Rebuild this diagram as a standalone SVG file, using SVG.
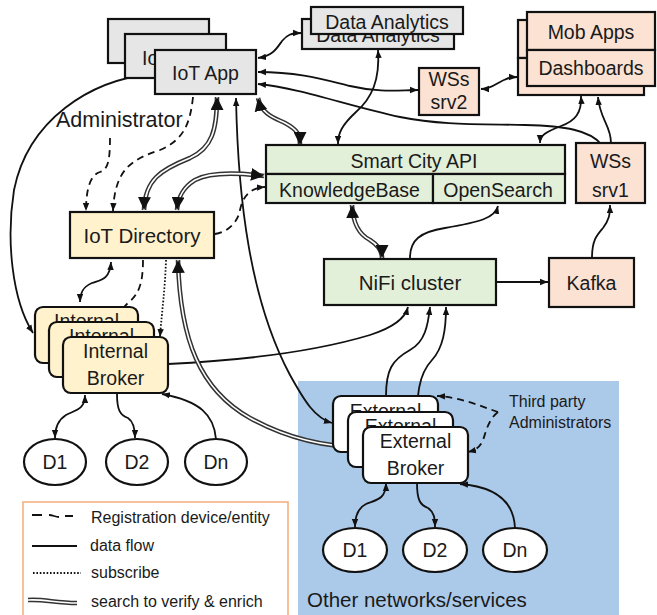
<svg xmlns="http://www.w3.org/2000/svg" width="657" height="615" viewBox="0 0 657 615">
  <style>
    text { font-family: "Liberation Sans", Arial, sans-serif; fill: #1a1a1a; }
    .lbl { font-size: 19.5px; text-anchor: middle; }
    .sm { font-size: 16px; }
    .box { stroke: #111; stroke-width: 2.2; }
    .grey { fill: #e6e6e6; }
    .peach { fill: #fbe2d3; }
    .green { fill: #e2efd9; }
    .yellow { fill: #fff2cc; }
    .white { fill: #ffffff; }
    .ln { fill: none; stroke: #111; stroke-width: 1.8; }
    .dash { stroke-dasharray: 7 5; }
    .dot { stroke-dasharray: 1.6 1.8; }
    .e1 { marker-end: url(#ah); }
    .e2 { marker-start: url(#ah); marker-end: url(#ah); }
    .dbo { fill: none; stroke: #333; stroke-width: 4.6; }
    .dbi { fill: none; stroke: #fff; stroke-width: 1.6; }
    .dbh { fill: none; stroke: none; marker-start: url(#bh); marker-end: url(#bh); }
  </style>
  <defs>
    <marker id="ah" viewBox="0 0 10 10" refX="10" refY="5" markerWidth="8" markerHeight="8" markerUnits="userSpaceOnUse" orient="auto-start-reverse">
      <path d="M0,1 L10,5 L0,9 z" fill="#111"/>
    </marker>
    <marker id="bh" viewBox="0 0 12 12" refX="12" refY="6" markerWidth="13" markerHeight="13" markerUnits="userSpaceOnUse" orient="auto-start-reverse">
      <path d="M0,0 L12,6 L0,12 z" fill="#111"/>
    </marker>
  </defs>

  <!-- external networks area -->
  <rect x="298" y="381" width="321" height="240" fill="#abc9e8"/>
  <text x="307" y="607" style="font-size:20.5px">Other networks/services</text>
  <text x="509" y="407" class="sm">Third party</text>
  <text x="509" y="428" class="sm">Administrators</text>

  <!-- legend -->
  <g id="legend">
    <rect x="23" y="502" width="265" height="120" fill="#fff" stroke="#f4b183" stroke-width="1.6"/>
    <path d="M32,515 L42,515 M49,515 C53,515 55,517 59,517 M65,516 L73,516" class="ln"/>
    <text x="91" y="523" class="sm">Registration device/entity</text>
    <path d="M32,546 L77,546" class="ln"/>
    <text x="90" y="551" class="sm">data flow</text>
    <path d="M33,573 L81,573" class="ln dot"/>
    <text x="91" y="578" class="sm">subscribe</text>
    <path d="M28,600 C45,599 55,603 77,603" class="dbo"/>
    <path d="M28,600 C45,599 55,603 77,603" class="dbi"/>
    <text x="91" y="607" class="sm">search to verify &amp; enrich</text>
  </g>

  <text x="56" y="127" style="font-size:21.5px">Administrator</text>

  <!-- connectors -->
  <g id="connectors">
    <!-- data flow -->
    <path class="ln e2" d="M258,58 C273,56 277,48 282,41 C287,35 291,33 301,33"/>
    <path class="ln e2" d="M258,72 C300,72 325,80 350,86 C380,93 400,90 418,90"/>
    <path class="ln e1" d="M602,145 C590,130 565,126 525,125 C475,124 440,125 400,117 C345,105 300,88 258,84"/>
    <path class="ln e2" d="M481,89 C496,89 500,77 517,77"/>
    <path class="ln e2" d="M378,50 C380,80 372,98 356,112 C342,125 338,133 338,144"/>
    <path class="ln e2" d="M581,96 C582,113 575,121 561,126 C546,132 540,135 540,143"/>
    <path class="ln e1" d="M611,143 C611,125 600,120 598,97"/>
    <path class="ln e2" d="M152,74 C90,80 28,120 14,190 C6,240 12,300 33,333"/>
    <path class="ln e2" d="M236,98 C238,200 250,300 290,375 C305,402 315,418 332,423"/>
    <path class="ln e2" d="M111,262 C110,280 100,280 92,283 C82,287 80,294 80,302"/>
    <path class="ln e1" d="M168,364 C250,360 320,350 370,335 C395,327 405,318 408,307"/>
    <path class="ln e1" d="M386,396 C386,370 392,360 410,350 C425,342 428,325 430,307"/>
    <path class="ln e1" d="M417,427 C417,395 418,375 432,360 C443,348 446,330 446,307"/>
    <path class="ln e1" d="M410,258 C410,240 420,232 445,228 C480,222 495,218 498,206"/>
    <path class="ln e1" d="M497,282 L548,282"/>
    <path class="ln e1" d="M592,258 C592,240 597,235 603,228 C609,220 610,215 610,205"/>
    <path class="ln e2" d="M85,395 C85,410 75,410 66,415 C58,420 55,428 55,438"/>
    <path class="ln e1" d="M117,394 C117,410 120,415 128,418 C134,422 135,430 135,438"/>
    <path class="ln e1" d="M216,439 C214,415 200,401 162,394"/>
    <path class="ln e2" d="M386,483 C386,500 375,500 366,504 C358,508 355,516 355,527"/>
    <path class="ln e1" d="M417,483 C417,500 420,505 428,508 C434,512 435,518 435,527"/>
    <path class="ln e1" d="M515,528 C514,505 500,487 460,484"/>

    <!-- registration -->
    <path class="ln dash e1" d="M215,234 C228,232 238,222 240,210 C243,196 250,188 265,187"/>
    <path class="ln dash e1" d="M193,97 C190,125 183,140 160,150 C130,160 115,170 113,211"/>
    <path class="ln dash e1" d="M110,138 C110,160 108,170 100,172 C90,175 86,190 86,211"/>
    <path class="ln dash e1" d="M143,260 C143,285 138,295 128,303 C120,310 117,320 117,333"/>
    <path class="ln dash e1" d="M498,412 C480,406 460,397 437,396"/>
    <path class="ln dash e1" d="M498,412 C488,420 486,432 483,440 C480,447 476,450 468,452"/>

    <!-- subscribe -->
    <path class="ln dot e1" d="M166,260 C165,290 162,310 160,337"/>

    <!-- search to verify & enrich -->
    <path class="dbo" d="M258,98 C262,115 275,118 285,123 C298,130 300,135 300,145"/>
    <path class="dbi" d="M258,98 C262,115 275,118 285,123 C298,130 300,135 300,145"/>
    <path class="dbh" d="M258,98 C262,115 275,118 285,123 C298,130 300,135 300,145"/>
    <path class="dbo" d="M264,176 C240,173 210,172 195,180 C182,188 178,198 177,210"/>
    <path class="dbi" d="M264,176 C240,173 210,172 195,180 C182,188 178,198 177,210"/>
    <path class="dbh" d="M264,176 C240,173 210,172 195,180 C182,188 178,198 177,210"/>
    <path class="dbo" d="M217,97 C217,130 212,148 190,158 C160,170 145,180 144,210"/>
    <path class="dbi" d="M217,97 C217,130 212,148 190,158 C160,170 145,180 144,210"/>
    <path class="dbh" d="M217,97 C217,130 212,148 190,158 C160,170 145,180 144,210"/>
    <path class="dbo" d="M178,260 C180,340 200,390 250,418 C290,440 330,447 362,447"/>
    <path class="dbi" d="M178,260 C180,340 200,390 250,418 C290,440 330,447 362,447"/>
    <path class="dbh" d="M178,260 C180,340 200,390 250,418 C290,440 330,447 362,447"/>
    <path class="dbo" d="M352,205 C353,225 360,235 370,240 C378,245 382,250 382,258"/>
    <path class="dbi" d="M352,205 C353,225 360,235 370,240 C378,245 382,250 382,258"/>
    <path class="dbh" d="M352,205 C353,225 360,235 370,240 C378,245 382,250 382,258"/>
  </g>

  <!-- nodes -->
  <g id="iot-app">
    <rect x="108" y="19" width="101" height="44" class="box grey"/>
    <rect x="125" y="34" width="101" height="44" class="box grey"/>
    <text x="175.5" y="65" class="lbl">IoT App</text>
    <rect x="155" y="50" width="101" height="44" class="box grey"/>
    <text x="205.5" y="80" class="lbl">IoT App</text>
  </g>

  <g id="data-analytics">
    <rect x="302" y="19" width="152" height="30" class="box grey"/>
    <text x="378" y="42" class="lbl">Data Analytics</text>
    <rect x="311" y="7" width="152" height="27" class="box grey"/>
    <text x="387" y="29" class="lbl">Data Analytics</text>
  </g>

  <g id="mob-apps">
    <rect x="518" y="20" width="126" height="38" class="box peach"/>
    <rect x="527" y="12" width="128" height="38" class="box peach"/>
    <text x="591" y="39" class="lbl">Mob Apps</text>
  </g>
  <g id="dashboards">
    <rect x="518" y="58" width="126" height="37" class="box peach"/>
    <rect x="527" y="50" width="128" height="36" class="box peach"/>
    <text x="591" y="75" class="lbl">Dashboards</text>
  </g>

  <g id="wss-srv2">
    <rect x="419" y="68" width="60" height="47" class="box peach"/>
    <text x="449" y="86" class="lbl">WSs</text>
    <text x="449" y="109" class="lbl">srv2</text>
  </g>

  <g id="smart-city-api">
    <rect x="266" y="145" width="299" height="29" class="box green"/>
    <text x="414" y="168" class="lbl">Smart City API</text>
  </g>
  <g id="knowledge-base">
    <rect x="266" y="174" width="167" height="29" class="box green"/>
    <text x="349.5" y="197" class="lbl">KnowledgeBase</text>
  </g>
  <g id="open-search">
    <rect x="433" y="174" width="132" height="29" class="box green"/>
    <text x="498" y="197" class="lbl">OpenSearch</text>
  </g>

  <g id="wss-srv1">
    <rect x="576" y="143" width="69" height="60" class="box peach"/>
    <text x="610.5" y="168" class="lbl">WSs</text>
    <text x="610.5" y="197" class="lbl">srv1</text>
  </g>

  <g id="iot-directory">
    <rect x="70" y="212" width="144" height="46" class="box yellow"/>
    <text x="142" y="243" class="lbl" style="font-size:20.5px">IoT Directory</text>
  </g>

  <g id="nifi-cluster">
    <rect x="324" y="259" width="172" height="46" class="box green"/>
    <text x="410" y="290" class="lbl" style="font-size:20.5px">NiFi cluster</text>
  </g>

  <g id="kafka">
    <rect x="549" y="258" width="85" height="49" class="box peach"/>
    <text x="591.5" y="290" class="lbl">Kafka</text>
  </g>

  <g id="internal-broker">
    <rect x="35" y="307" width="103" height="56" rx="8" class="box yellow"/>
    <text x="86.5" y="328" class="lbl">Internal</text>
    <rect x="49" y="322" width="105" height="55" rx="8" class="box yellow"/>
    <text x="101.5" y="343" class="lbl">Internal</text>
    <rect x="63" y="337" width="105" height="56" rx="8" class="box yellow"/>
    <text x="115.5" y="358" class="lbl">Internal</text>
    <text x="115.5" y="385" class="lbl">Broker</text>
  </g>

  <g id="external-broker">
    <rect x="333" y="396" width="105" height="56" rx="8" class="box white"/>
    <text x="385.5" y="418" class="lbl">External</text>
    <rect x="348" y="412" width="105" height="55" rx="8" class="box white"/>
    <text x="400.5" y="433" class="lbl">External</text>
    <rect x="363" y="427" width="105" height="56" rx="8" class="box white"/>
    <text x="415.5" y="448" class="lbl">External</text>
    <text x="415.5" y="475" class="lbl">Broker</text>
  </g>

  <g id="int-d1"><ellipse cx="55" cy="462" rx="31" ry="23" class="box white"/><text x="55" y="469" class="lbl">D1</text></g>
  <g id="int-d2"><ellipse cx="137" cy="462" rx="31" ry="23" class="box white"/><text x="137" y="469" class="lbl">D2</text></g>
  <g id="int-dn"><ellipse cx="216" cy="462" rx="31" ry="23" class="box white"/><text x="216" y="469" class="lbl">Dn</text></g>

  <g id="ext-d1"><ellipse cx="355" cy="550" rx="32" ry="22" class="box white"/><text x="355" y="557" class="lbl">D1</text></g>
  <g id="ext-d2"><ellipse cx="435" cy="550" rx="32" ry="22" class="box white"/><text x="435" y="557" class="lbl">D2</text></g>
  <g id="ext-dn"><ellipse cx="515" cy="550" rx="32" ry="22" class="box white"/><text x="515" y="557" class="lbl">Dn</text></g>
</svg>
